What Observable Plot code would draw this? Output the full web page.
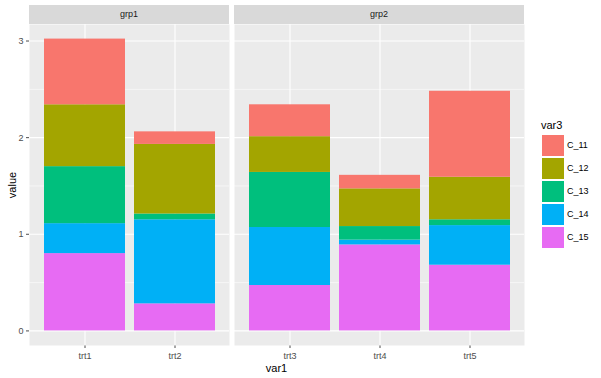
<!DOCTYPE html>
<html>
<head>
<meta charset="utf-8">
<script src="https://cdn.jsdelivr.net/npm/d3@7"></script>
<script src="https://cdn.jsdelivr.net/npm/@observablehq/plot@0.6"></script>
<style>
  body { margin: 0; background: #fff; }
  #chart { position: relative; width: 601px; height: 378px; background: #fff; font-family: "Liberation Sans", Arial, sans-serif; overflow: hidden; }
  .abs { position: absolute; }
  .strip { position: absolute; top: 5px; height: 19px; background: #d9d9d9; color: #1a1a1a; font-size: 9px; line-height: 19px; text-align: center; }
</style>
</head>
<body>
<div id="chart"></div>
<script>
// ---- data ----
const grp1Cats = ["trt1", "trt2"];
const grp2Cats = ["trt3", "trt4", "trt5"];
const var1Levels = ["trt1", "trt2", "trt3", "trt4", "trt5"];
const var3Levels = ["C_11", "C_12", "C_13", "C_14", "C_15"];
const var3Colors = ["#F8766D", "#A3A500", "#00BF7D", "#00B0F6", "#E76BF3"];
// values per var3 level, across trt1..trt5
const C_11 = [0.68, 0.13, 0.33, 0.14, 0.89];
const C_12 = [0.64, 0.72, 0.37, 0.39, 0.44];
const C_13 = [0.59, 0.06, 0.57, 0.14, 0.06];
const C_14 = [0.31, 0.87, 0.60, 0.05, 0.41];
const C_15 = [0.80, 0.28, 0.47, 0.89, 0.68];
const majorTicks = [0, 1, 2, 3];
const minorTicks = [0.5, 1.5, 2.5];

const series = {C_11, C_12, C_13, C_14, C_15};
const rows = [];
// bottom of stack first: C_15 ... C_11
for (const k of var3Levels.slice().reverse()) {
  var1Levels.forEach((t, i) => rows.push({var1: t, var3: k, value: series[k][i], grp: grp1Cats.includes(t) ? "grp1" : "grp2"}));
}
const totals = var1Levels.map((t) => d3.sum(rows.filter(r => r.var1 === t), r => r.value));
const maxT = d3.max(totals);
const yDomain = [-0.05 * maxT, 1.05 * maxT];

const root = document.getElementById("chart");
const font = '"Liberation Sans", Arial, sans-serif';

function panel(cats, width, left, showY) {
  const p = Plot.plot({
    width, height: 378,
    marginLeft: showY ? 29 : 0, marginRight: 0, marginTop: 24, marginBottom: 33,
    style: {fontFamily: font, fontSize: "9px", color: "#4d4d4d", background: "transparent", overflow: "visible"},
    x: {domain: cats, paddingInner: 0.1, paddingOuter: 0.15, label: null, tickSize: 3, tickPadding: 4},
    y: showY ? {domain: yDomain, ticks: majorTicks, tickFormat: d3.format("d"), tickSize: 3, tickPadding: 3, label: null}
             : {domain: yDomain, axis: null},
    color: {domain: var3Levels, range: var3Colors},
    marks: [
      Plot.frame({fill: "#EBEBEB", stroke: null}),
      Plot.ruleY(minorTicks, {stroke: "#ffffff", strokeWidth: 0.55}),
      Plot.ruleY(majorTicks, {stroke: "#ffffff", strokeWidth: 1.07}),
      Plot.ruleX(cats, {stroke: "#ffffff", strokeWidth: 1.07}),
      Plot.barY(rows.filter(r => cats.includes(r.var1)), {x: "var1", y: "value", fill: "var3"})
    ]
  });
  p.classList.add("abs");
  p.style.left = left + "px";
  p.style.top = "0px";
  root.appendChild(p);
}
panel(grp1Cats, 229, 0, true);
panel(grp2Cats, 290, 234, false);

// strips
[["grp1", 29, 200], ["grp2", 234, 290]].forEach(([lab, l, w]) => {
  const s = document.createElement("div");
  s.className = "strip";
  s.style.left = l + "px"; s.style.width = w + "px";
  s.textContent = lab;
  root.appendChild(s);
});

// axis titles
const xt = document.createElement("div");
xt.className = "abs";
xt.style.cssText += "left:29px;width:495px;top:362px;text-align:center;font-size:11px;color:#000;";
xt.textContent = "var1";
root.appendChild(xt);

const yt = document.createElement("div");
yt.className = "abs";
yt.style.cssText += "left:12px;top:184.5px;font-size:11px;color:#000;transform:translate(-50%,-50%) rotate(-90deg);white-space:nowrap;";
yt.textContent = "value";
root.appendChild(yt);

// legend
const lt = document.createElement("div");
lt.className = "abs";
lt.style.cssText += "left:541px;top:119px;font-size:11px;color:#000;";
lt.textContent = "var3";
root.appendChild(lt);
var3Levels.forEach((k, i) => {
  const sw = document.createElement("div");
  sw.className = "abs";
  sw.style.cssText += `left:542px;top:${135 + 23 * i}px;width:22px;height:21px;background:${var3Colors[i]};`;
  root.appendChild(sw);
  const tx = document.createElement("div");
  tx.className = "abs";
  tx.style.cssText += `left:567px;top:${135 + 23 * i}px;height:21px;line-height:21px;font-size:9px;color:#000;`;
  tx.textContent = k;
  root.appendChild(tx);
});
</script>
</body>
</html>
